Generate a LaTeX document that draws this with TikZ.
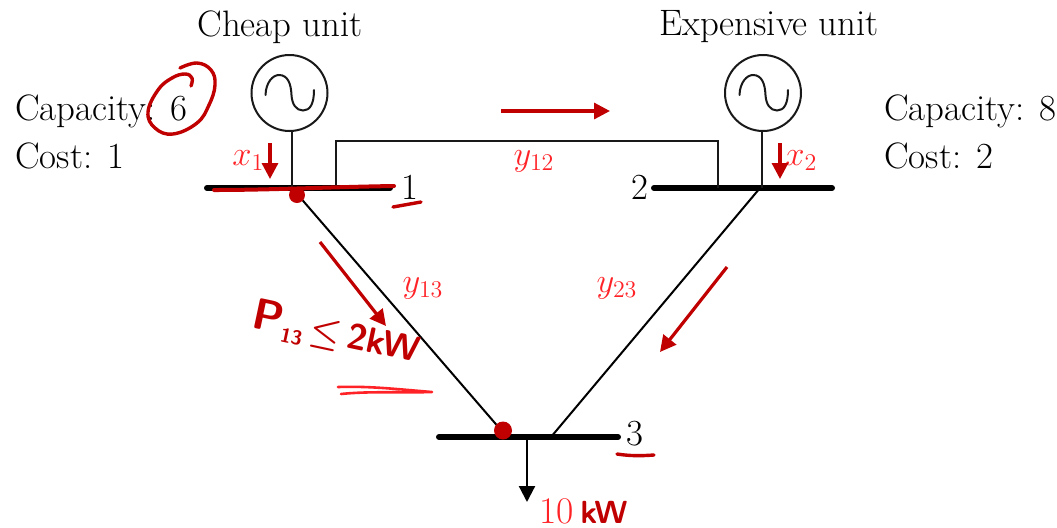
\documentclass[tikz,border=0pt]{standalone}
\usetikzlibrary{arrows.meta}
\definecolor{inkred}{RGB}{192,0,0}
\definecolor{labred}{RGB}{255,35,40}
\tikzset{
  wire/.style={draw=black!90,line width=1pt},
  busbar/.style={draw=black,line width=3pt,line cap=round},
  gen/.style={circle,draw=black!90,line width=1pt,minimum size=38pt,inner sep=0pt},
  txt/.style={inner sep=0pt,font=\fontsize{18.4}{22}\selectfont,text=black},
  lab/.style={inner sep=0pt,font=\fontsize{18.8}{22}\selectfont,text=labred},
  inkarrow/.style={draw=inkred,line width=1.6pt,-{Triangle[length=8pt,width=8pt]}},
  ink/.style={draw=inkred,line width=1.7pt,line cap=round,line join=round},
  inkthin/.style={draw=labred,line width=1.3pt,line cap=round,line join=round},
  loadarrow/.style={draw=black,line width=1.1pt,-{Triangle[length=8pt,width=8pt]}},
  sinewave/.style={draw=black!90,line width=1pt,line cap=round}
}
\begin{document}
\begin{tikzpicture}[x=0.5pt,y=-0.5pt]
\useasboundingbox (0,0) rectangle (1057,527);
% buses
\coordinate (b1l) at (207,188); \coordinate (b1r) at (390,188);
\coordinate (b2l) at (654,188); \coordinate (b2r) at (832,188);
\coordinate (b3l) at (439,437); \coordinate (b3r) at (618,437);
\draw[busbar] (b1l) -- (b1r);
\draw[busbar] (b2l) -- (b2r);
\draw[busbar] (b3l) -- (b3r);
% generators
\node[gen] (g1) at (289.5,93) {};
\node[gen] (g2) at (763,93) {};
\coordinate (s1) at (291.5,188); \coordinate (s2) at (762,188);
\draw[wire] (g1.south -| s1) -- (s1);
\draw[wire] (g2.south -| s2) -- (s2);
\draw[sinewave] (265.5,95) .. controls (266,82) and (273,75) .. (279,75) .. controls (288,75) and (291,84) .. (291.5,95) .. controls (292,104) and (296,110.5) .. (303,110.5) .. controls (310,110.5) and (314,104) .. (314,90);
\draw[sinewave] (739.5,95) .. controls (740,82) and (747,75) .. (753,75) .. controls (762,75) and (765,84) .. (765.5,95) .. controls (766,104) and (770,110.5) .. (777,110.5) .. controls (784,110.5) and (788,104) .. (788,90);
% lines
\coordinate (l12a) at (336,188); \coordinate (l12b) at (718,188);
\coordinate (t12a) at (336,141); \coordinate (t12b) at (718,141);
\draw[wire] (l12a) -- (t12a) -- (t12b) -- (l12b);
\coordinate (l13a) at (292,188); \coordinate (l13b) at (507,437);
\coordinate (l23a) at (760,188); \coordinate (l23b) at (551,437);
\draw[wire,draw=black] (l13a) -- (l13b);
\draw[wire,draw=black] (l23a) -- (l23b);
% load
\coordinate (loada) at (527,437); \coordinate (loadb) at (527,502);
\draw[loadarrow] (loada) -- (loadb);
% typed text
\node[txt] (cheap) at (280,27) {Cheap unit};
\node[txt] (exp) at (769,27) {Expensive unit};
\node[txt,anchor=base west] (cap1) at (15,120) {Capacity: 6};
\node[txt,anchor=base west] (cost1) at (15,168) {Cost: 1};
\node[txt,anchor=base west] (cap2) at (884,120) {Capacity: 8};
\node[txt,anchor=base west] (cost2) at (884,168) {Cost: 2};
\node[txt] (n1) at (410,187) {1};
\node[txt] (n2) at (640,187) {2};
\node[txt] (n3) at (635,434) {3};
\node[lab,anchor=base west] (x1) at (232,165) {$x_1$};
\node[lab,anchor=base west] (x2) at (785,165) {$x_2$};
\node[lab] (y12) at (534,161) {$y_{12}$};
\node[lab] (y13) at (423,288) {$y_{13}$};
\node[lab] (y23) at (617,288) {$y_{23}$};
\node[lab,anchor=base west] (ten) at (539,523) {10};
% ink annotations
\coordinate (a0s) at (501,111); \coordinate (a0e) at (610,111);
\draw[inkarrow] (a0s) -- (a0e);
\coordinate (a13s) at (320,242); \coordinate (a13e) at (386,326);
\draw[inkarrow] (a13s) -- (a13e);
\coordinate (a23s) at (727,267); \coordinate (a23e) at (660,352);
\draw[inkarrow] (a23s) -- (a23e);
\coordinate (ax1s) at (270,143); \coordinate (ax1e) at (270,179);
\draw[inkarrow] (ax1s) -- (ax1e);
\coordinate (ax2s) at (780,143); \coordinate (ax2e) at (780,179);
\draw[inkarrow] (ax2s) -- (ax2e);
\draw[ink,line width=2pt] (214,190) .. controls (270,190) and (330,187) .. (394,186);
\fill[inkred] (297,195) circle[radius=8];
\fill[inkred] (503,430.5) circle[radius=9];
\draw[ink] plot[smooth,tension=0.7] coordinates {(180,68) (197,63) (211,70) (215,85) (209,105) (197,123) (173,134) (155,128) (148,112) (158,90) (172,78) (185,74) (192,78) (191,86)};
\draw[ink] (393,207) -- (421,202);
\draw[ink] (617,454) .. controls (630,456) and (640,456) .. (654,455);
\draw[inkthin] (338,387) .. controls (370,386) and (395,389) .. (432,392) .. controls (400,393) and (370,391) .. (341,394);
\node[inner sep=0pt,text=inkred,font=\fontsize{18}{20}\selectfont\bfseries\sffamily\boldmath,rotate=-12] (p13) at (336,334) {\fontsize{22}{22}\selectfont P\fontsize{10}{10}\selectfont\raisebox{-4pt}{13}\fontsize{18}{20}\selectfont$\,\leq\,$2kW};
\node[inner sep=0pt,text=inkred,font=\fontsize{16}{20}\selectfont\bfseries\sffamily,anchor=base west] (kw) at (580,523) {kW};
\end{tikzpicture}
\end{document}
